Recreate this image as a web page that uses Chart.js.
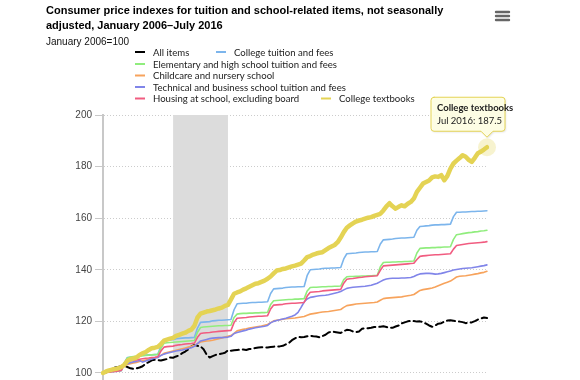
<!DOCTYPE html>
<html><head><meta charset="utf-8">
<script src="https://cdn.jsdelivr.net/npm/chart.js@4.4.1/dist/chart.umd.min.js"></script>
<style>html,body{margin:0;padding:0;background:#fff;overflow:hidden}#wrap{position:relative;width:580px;height:380px;overflow:hidden}</style>
</head><body><div id="wrap"><canvas id="c" width="580" height="400"></canvas></div>
<script>
const titleLines = ['Consumer price indexes for tuition and school-related items, not seasonally', 'adjusted, January 2006\u2013July 2016'];
const subtitleText = 'January 2006=100';
const monthNames = ['Jan','Feb','Mar','Apr','May','Jun','Jul','Aug','Sep','Oct','Nov','Dec'];
const categories = [];
for (let y = 2006; y <= 2016; y++) for (let m = 0; m < 12; m++) { if (y === 2016 && m > 6) break; categories.push(monthNames[m] + ' ' + y); }
const yTicks = [100, 120, 140, 160, 180, 200];
const recession = ['Dec 2007', 'Jun 2009'];
const seriesNames = ['All items','College tuition and fees','Elementary and high school tuition and fees','Childcare and nursery school','Technical and business school tuition and fees','Housing at school, excluding board','College textbooks'];

const allItems = [
100.0,100.2,100.8,101.6,102.1,102.3,102.6,102.8,102.3,101.8,101.6,101.8,
102.1,102.6,103.6,104.2,104.9,105.1,105.0,104.8,105.1,105.4,106.0,105.9,
106.4,106.8,107.7,108.3,109.2,110.3,110.9,110.5,110.3,109.2,107.1,106.0,
106.5,107.0,107.3,107.5,107.8,108.8,108.6,108.8,108.9,109.0,109.1,108.9,
109.3,109.3,109.7,109.9,110.0,109.9,109.9,110.1,110.2,110.3,110.3,110.5,
111.1,111.6,112.7,113.4,114.0,113.8,113.9,114.2,114.4,114.2,114.1,113.8,
114.3,114.8,115.7,116.0,115.9,115.7,115.5,116.2,116.7,116.6,116.1,115.8,
116.1,117.1,117.4,117.3,117.5,117.8,117.8,117.9,118.1,117.8,117.5,117.5,
118.0,118.4,119.2,119.6,120.0,120.2,120.1,119.9,120.0,119.7,119.1,118.4,
117.9,118.4,119.1,119.3,119.9,120.3,120.4,120.2,120.0,119.9,119.7,119.3,
119.5,119.6,120.1,120.7,121.1,121.5,121.3];
const collegeTuition = [
100.0,100.2,100.4,100.5,100.6,100.7,100.9,104.0,106.0,106.1,106.2,106.3,
106.6,106.8,106.9,107.0,107.0,107.1,107.2,110.5,112.6,112.7,112.8,112.9,
113.3,113.4,113.5,113.6,113.6,113.7,113.8,117.4,119.6,119.7,119.8,119.9,
120.2,120.3,120.4,120.4,120.5,120.6,120.7,124.5,126.8,126.9,127.0,127.0,
127.2,127.3,127.3,127.4,127.4,127.5,127.6,130.8,132.6,132.7,132.8,132.9,
133.1,133.2,133.3,133.3,133.4,133.4,133.5,137.8,140.0,140.1,140.2,140.3,
140.5,140.6,140.6,140.7,140.7,140.8,140.9,144.2,146.2,146.3,146.4,146.5,
146.7,146.8,146.9,146.9,147.0,147.0,147.1,150.0,151.6,151.7,151.8,151.9,
152.1,152.2,152.3,152.3,152.4,152.5,152.6,155.3,156.8,156.9,157.0,157.1,
157.3,157.4,157.4,157.5,157.5,157.6,157.7,160.6,162.3,162.3,162.4,162.4,
162.5,162.6,162.6,162.7,162.7,162.8,162.9];
const elementaryHigh = [
100.0,100.3,100.5,100.6,100.8,100.9,101.0,103.5,105.8,106.2,106.4,106.5,
106.6,106.7,106.8,106.9,107.0,107.1,107.2,109.5,111.5,111.7,111.8,111.9,
112.0,112.1,112.2,112.3,112.4,112.5,112.6,115.8,117.6,117.8,117.9,118.0,
118.1,118.2,118.3,118.3,118.4,118.4,118.5,121.5,122.8,123.0,123.1,123.1,
123.2,123.2,123.3,123.3,123.4,123.4,123.5,126.5,128.0,128.1,128.2,128.3,
128.4,128.5,128.5,128.6,128.6,128.7,128.8,131.8,133.1,133.2,133.2,133.3,
133.4,133.4,133.5,133.5,133.6,133.6,133.7,136.2,137.3,137.4,137.4,137.5,
137.5,137.6,137.6,137.7,137.7,137.8,137.9,141.2,142.8,142.9,142.9,143.0,
143.0,143.1,143.1,143.2,143.2,143.3,143.4,146.5,148.3,148.4,148.5,148.5,
148.6,148.6,148.7,148.7,148.8,148.8,148.9,151.8,153.6,153.8,154.0,154.2,
154.4,154.5,154.7,154.8,155.0,155.1,155.3];
const childcare = [
100.0,100.4,100.7,101.0,101.3,101.6,101.9,102.5,103.3,103.6,103.9,104.1,
104.4,104.7,105.0,105.3,105.6,105.9,106.2,106.8,107.6,107.9,108.2,108.5,
108.8,109.1,109.4,109.7,110.0,110.3,110.7,111.3,112.0,112.2,112.4,112.5,
112.7,113.0,113.3,113.6,113.9,114.2,114.5,115.3,116.3,116.6,116.9,117.1,
117.4,117.6,117.8,118.0,118.2,118.5,118.8,119.5,120.2,120.4,120.6,120.8,
121.0,121.1,121.2,121.3,121.5,121.7,121.9,122.4,122.8,123.0,123.2,123.4,
123.6,123.7,123.8,124.0,124.2,124.4,124.6,125.4,126.1,126.3,126.5,126.7,
126.8,126.9,127.0,127.1,127.2,127.3,127.5,128.2,128.8,129.0,129.1,129.2,
129.3,129.4,129.5,129.7,129.9,130.1,130.4,131.2,132.0,132.3,132.5,132.7,
132.9,133.3,133.8,134.3,134.8,135.2,135.6,136.4,137.2,137.5,137.6,137.7,
137.9,138.1,138.3,138.5,138.8,139.0,139.4];
const technical = [
100.0,100.3,100.6,100.9,101.2,101.5,101.8,102.8,103.6,104.0,104.3,104.5,
104.8,104.2,104.6,105.0,105.4,105.7,106.0,106.8,107.3,107.6,107.9,108.2,
108.5,108.7,108.9,109.2,109.5,109.8,110.3,111.4,112.4,112.7,113.0,113.3,
113.5,113.6,113.7,113.7,113.8,113.9,114.2,115.3,115.7,116.0,116.3,116.6,
117.0,117.2,117.5,117.7,117.9,118.1,118.4,119.4,120.0,120.3,120.6,120.9,
121.2,121.6,122.0,122.5,123.5,125.4,127.5,128.7,129.3,129.5,129.7,129.9,
130.0,130.1,130.3,130.6,130.9,131.2,131.6,132.2,132.8,133.0,133.2,133.3,
133.4,133.5,133.6,133.8,134.0,134.4,134.8,135.4,136.0,136.4,136.6,136.7,
136.7,136.7,136.8,136.8,136.9,137.0,137.4,138.0,138.4,138.5,138.6,138.6,
138.5,138.3,138.4,138.6,138.9,139.2,139.5,139.9,140.1,140.3,140.5,140.6,
140.7,140.8,141.0,141.2,141.4,141.6,141.9];
const housing = [
100.0,100.2,100.3,100.5,100.6,100.8,101.0,103.0,104.5,104.7,104.9,105.0,
105.3,105.5,105.7,105.8,106.0,106.1,106.3,108.5,110.0,110.2,110.3,110.4,
110.7,110.9,111.0,111.2,111.3,111.4,111.6,113.8,115.3,115.5,115.6,115.7,
115.9,116.0,116.1,116.2,116.3,116.4,116.5,119.5,121.2,121.3,121.4,121.5,
121.7,121.8,121.9,122.0,122.0,122.1,122.2,124.8,126.3,126.4,126.5,126.6,
126.8,126.9,127.0,127.0,127.1,127.2,127.3,129.8,131.3,131.4,131.5,131.6,
131.8,131.9,132.0,132.1,132.2,132.3,132.4,134.8,136.3,136.5,136.6,136.8,
137.0,137.1,137.3,137.4,137.5,137.6,137.7,139.8,141.5,141.6,141.7,141.8,
141.9,142.0,142.1,142.2,142.3,142.4,142.5,144.0,145.2,145.4,145.5,145.6,
145.7,145.8,145.8,145.9,146.0,146.1,146.2,148.0,149.4,149.6,149.8,150.0,
150.2,150.3,150.4,150.5,150.6,150.7,150.9];
const textbooks = [
100.0,100.6,101.0,101.3,101.5,101.8,102.3,103.2,104.7,105.3,105.6,106.0,
107.0,107.6,108.1,108.9,109.6,109.8,110.1,111.2,112.5,112.9,113.3,113.6,
114.4,114.8,115.2,115.6,116.3,116.8,118.3,121.5,123.0,123.4,123.8,124.0,
124.3,124.6,125.0,125.3,126.0,126.4,128.5,130.7,131.2,131.6,132.3,132.8,
133.4,134.0,134.6,134.8,135.3,135.8,136.5,137.4,138.6,139.7,139.9,140.3,
140.5,140.9,141.3,141.6,142.0,142.4,143.6,144.9,145.3,145.9,146.3,146.6,
146.8,147.6,148.4,149.0,149.6,150.7,152.5,154.6,156.3,157.2,158.0,158.7,
159.1,159.4,159.8,160.2,160.4,160.9,161.3,161.7,163.0,164.6,165.8,164.6,
163.7,164.4,165.0,164.6,165.6,166.3,167.6,170.2,171.8,173.4,174.0,174.6,
175.8,176.2,176.0,176.7,174.7,176.4,179.2,181.2,182.3,183.3,184.4,183.8,
182.6,181.8,183.4,185.2,185.8,186.6,187.5];

const seriesData = [allItems, collegeTuition, elementaryHigh, childcare, technical, housing, textbooks];
const colors = ['#000000','#7cb5ec','#90ed7d','#f7a35c','#8085e9','#f15c80','#e4d354'];
const widths = [2, 1.6, 1.6, 1.6, 1.6, 1.6, 4.5];

const bandPlugin = {
  id: 'band',
  beforeDatasetsDraw(chart) {
    const {ctx, chartArea, scales} = chart;
    const x0 = scales.x.getPixelForValue(categories.indexOf(recession[0]));
    const x1 = scales.x.getPixelForValue(categories.indexOf(recession[1]));
    ctx.save();
    ctx.fillStyle = '#dcdcdc';
    ctx.fillRect(x0, chartArea.top, x1 - x0, chartArea.bottom - chartArea.top);
    ctx.restore();
  }
};

const legendSlots = [[135, 52], [216, 52], [135, 64], [135, 75.5], [135, 87], [135, 98.5], [321, 98.5]];
const overlayPlugin = {
  id: 'overlay',
  afterDraw(chart) {
    const ctx = chart.ctx;
    ctx.save();
    ctx.font = '9.6px Lato';
    ctx.textBaseline = 'middle';
    chart.data.datasets.forEach((ds, i) => {
      const [lx, ly] = legendSlots[i];
      ctx.beginPath();
      ctx.strokeStyle = ds.borderColor;
      ctx.lineWidth = 2;
      ctx.setLineDash([]);
      ctx.moveTo(lx, ly); ctx.lineTo(lx + 10, ly);
      ctx.stroke();
      ctx.fillStyle = '#222';
      ctx.fillText(ds.label, lx + 18, ly + 0.5);
    });
    ctx.strokeStyle = '#666';
    ctx.lineWidth = 2.4;
    ctx.lineCap = 'round';
    [12, 16, 20].forEach(y => { ctx.beginPath(); ctx.moveTo(496, y); ctx.lineTo(509, y); ctx.stroke(); });
    const di = 6;
    const meta = chart.getDatasetMeta(di);
    const last = meta.data.length - 1;
    const pt = meta.data[last];
    const px = pt.x, py = pt.y;
    ctx.beginPath();
    ctx.fillStyle = 'rgba(228,211,84,0.28)';
    ctx.arc(px, py, 9, 0, Math.PI * 2);
    ctx.fill();
    const bx = px - 56, by = py - 50, bw = 74, bh = 34;
    ctx.beginPath();
    ctx.moveTo(bx + 3, by);
    ctx.lineTo(bx + bw - 3, by);
    ctx.quadraticCurveTo(bx + bw, by, bx + bw, by + 3);
    ctx.lineTo(bx + bw, by + bh - 3);
    ctx.quadraticCurveTo(bx + bw, by + bh, bx + bw - 3, by + bh);
    ctx.lineTo(px + 6, by + bh);
    ctx.lineTo(px, by + bh + 6);
    ctx.lineTo(px - 6, by + bh);
    ctx.lineTo(bx + 3, by + bh);
    ctx.quadraticCurveTo(bx, by + bh, bx, by + bh - 3);
    ctx.lineTo(bx, by + 3);
    ctx.quadraticCurveTo(bx, by, bx + 3, by);
    ctx.closePath();
    ctx.shadowColor = 'rgba(0,0,0,0.12)';
    ctx.shadowOffsetX = 1; ctx.shadowOffsetY = 1; ctx.shadowBlur = 2;
    ctx.fillStyle = 'rgba(255,255,228,0.92)';
    ctx.fill();
    ctx.shadowColor = 'transparent';
    ctx.strokeStyle = '#e4d354';
    ctx.lineWidth = 1;
    ctx.stroke();
    ctx.fillStyle = '#222';
    ctx.textBaseline = 'middle';
    ctx.font = 'bold 9.5px Lato';
    ctx.fillText(chart.data.datasets[di].label, bx + 6, by + 11);
    ctx.font = '9.5px Lato';
    ctx.fillText(categories[last] + ': ' + seriesData[di][last].toFixed(1), bx + 6, by + 24);
    ctx.restore();
  }
};

new Chart(document.getElementById('c'), {
  type: 'line',
  data: {
    labels: categories,
    datasets: seriesData.map((d, i) => ({
      label: seriesNames[i],
      data: d,
      borderColor: colors[i],
      backgroundColor: colors[i],
      borderWidth: widths[i],
      borderDash: i === 0 ? [8, 4] : [],
      order: 6 - i,
      pointRadius: 0,
      tension: 0,
      fill: false
    }))
  },
  options: {
    responsive: false,
    animation: false,
    devicePixelRatio: 1,
    layout: { padding: { left: 46, right: 93, top: 0, bottom: 0 } },
    elements: { line: { borderJoinStyle: 'round', borderCapStyle: 'round' } },
    scales: {
      x: { type: 'category', display: false },
      y: {
        min: 93, max: 200,
        afterBuildTicks: s => { s.ticks = yTicks.map(v => ({ value: v })); },
        afterFit: s => { s.width = 57; },
        grid: { color: '#cccccc', lineWidth: 1, tickColor: '#c8c8c8', tickLength: 8 },
        border: { color: '#c8c8c8', width: 2, dash: [1, 2] },
        ticks: { color: '#444', padding: 3, font: { family: 'Liberation Sans', size: 10 } }
      }
    },
    plugins: {
      legend: { display: false },
      tooltip: { enabled: false },
      title: {
        display: true, text: titleLines, align: 'start', color: '#000',
        font: { family: 'Liberation Sans', size: 11, weight: 'bold', lineHeight: 1.35 },
        padding: { top: 4, bottom: 2 }
      },
      subtitle: {
        display: true, text: subtitleText, align: 'start', color: '#111',
        font: { family: 'Liberation Sans', size: 10, lineHeight: 1.2 },
        padding: { top: 1, bottom: 66.3 }
      }
    }
  },
  plugins: [bandPlugin, overlayPlugin]
});
</script>
</body></html>
